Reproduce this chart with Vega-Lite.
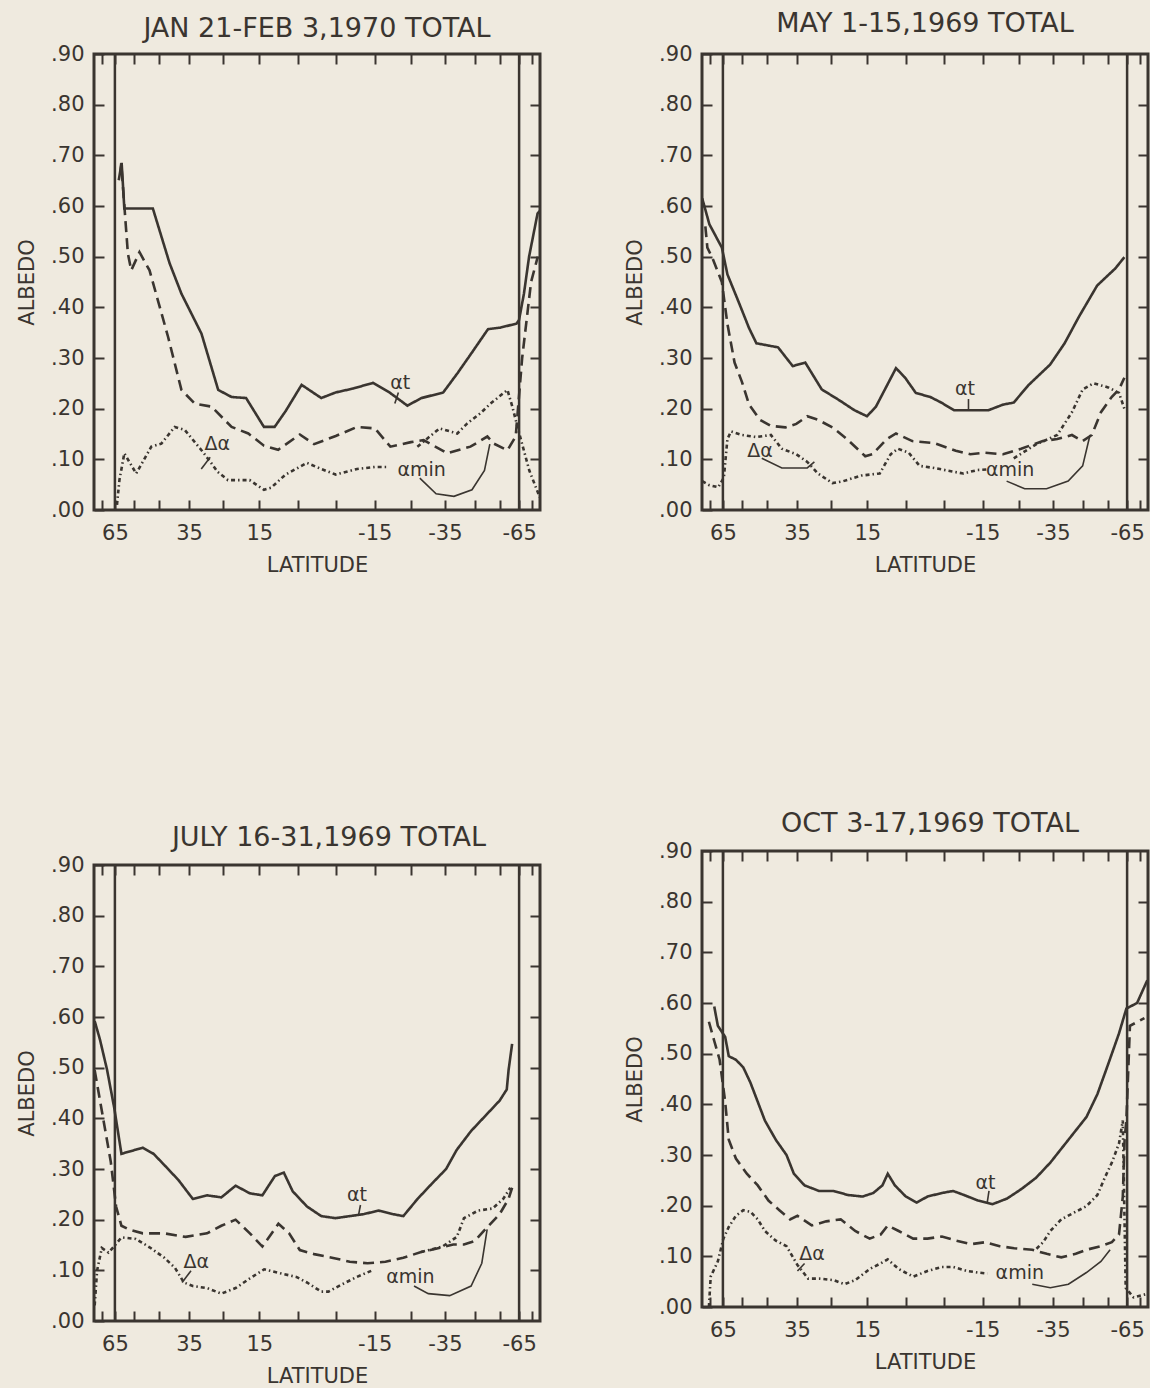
{
"$schema": "https://vega.github.io/schema/vega-lite/v6.json",
"background": "#efeadf",
"padding": {"left": 15, "top": 8, "right": 0, "bottom": 0},
"datasets": {
"limits": [{"sinlat": 0.9063}, {"sinlat": -0.9063}],
"curves": [
{"panel":"p1","series":"at","g":1,"sinlat":0.889,"albedo":0.651},{"panel":"p1","series":"at","g":1,"sinlat":0.876,"albedo":0.685},{"panel":"p1","series":"at","g":1,"sinlat":0.864,"albedo":0.595},{"panel":"p1","series":"at","g":1,"sinlat":0.736,"albedo":0.595},{"panel":"p1","series":"at","g":1,"sinlat":0.661,"albedo":0.487},{"panel":"p1","series":"at","g":1,"sinlat":0.608,"albedo":0.427},{"panel":"p1","series":"at","g":1,"sinlat":0.518,"albedo":0.348},{"panel":"p1","series":"at","g":1,"sinlat":0.443,"albedo":0.237},{"panel":"p1","series":"at","g":1,"sinlat":0.383,"albedo":0.223},{"panel":"p1","series":"at","g":1,"sinlat":0.318,"albedo":0.221},{"panel":"p1","series":"at","g":1,"sinlat":0.238,"albedo":0.164},{"panel":"p1","series":"at","g":1,"sinlat":0.19,"albedo":0.164},{"panel":"p1","series":"at","g":1,"sinlat":0.141,"albedo":0.195},{"panel":"p1","series":"at","g":1,"sinlat":0.069,"albedo":0.247},{"panel":"p1","series":"at","g":1,"sinlat":-0.019,"albedo":0.221},{"panel":"p1","series":"at","g":1,"sinlat":-0.084,"albedo":0.232},{"panel":"p1","series":"at","g":1,"sinlat":-0.164,"albedo":0.24},{"panel":"p1","series":"at","g":1,"sinlat":-0.252,"albedo":0.251},{"panel":"p1","series":"at","g":1,"sinlat":-0.325,"albedo":0.232},{"panel":"p1","series":"at","g":1,"sinlat":-0.405,"albedo":0.206},{"panel":"p1","series":"at","g":1,"sinlat":-0.469,"albedo":0.221},{"panel":"p1","series":"at","g":1,"sinlat":-0.566,"albedo":0.232},{"panel":"p1","series":"at","g":1,"sinlat":-0.63,"albedo":0.27},{"panel":"p1","series":"at","g":1,"sinlat":-0.695,"albedo":0.311},{"panel":"p1","series":"at","g":1,"sinlat":-0.767,"albedo":0.357},{"panel":"p1","series":"at","g":1,"sinlat":-0.823,"albedo":0.36},{"panel":"p1","series":"at","g":1,"sinlat":-0.895,"albedo":0.368},{"panel":"p1","series":"at","g":1,"sinlat":-0.906,"albedo":0.375},{"panel":"p1","series":"at","g":1,"sinlat":-0.928,"albedo":0.427},{"panel":"p1","series":"at","g":1,"sinlat":-0.951,"albedo":0.5},{"panel":"p1","series":"at","g":1,"sinlat":-0.989,"albedo":0.585},{"panel":"p1","series":"at","g":1,"sinlat":-0.999,"albedo":0.59},
{"panel":"p1","series":"da","g":1,"sinlat":0.882,"albedo":0.664},{"panel":"p1","series":"da","g":1,"sinlat":0.878,"albedo":0.684},{"panel":"p1","series":"da","g":1,"sinlat":0.848,"albedo":0.506},{"panel":"p1","series":"da","g":1,"sinlat":0.833,"albedo":0.473},{"panel":"p1","series":"da","g":1,"sinlat":0.796,"albedo":0.509},{"panel":"p1","series":"da","g":1,"sinlat":0.751,"albedo":0.473},{"panel":"p1","series":"da","g":1,"sinlat":0.668,"albedo":0.342},{"panel":"p1","series":"da","g":1,"sinlat":0.608,"albedo":0.237},{"panel":"p1","series":"da","g":1,"sinlat":0.548,"albedo":0.21},{"panel":"p1","series":"da","g":1,"sinlat":0.473,"albedo":0.204},{"panel":"p1","series":"da","g":1,"sinlat":0.383,"albedo":0.164},{"panel":"p1","series":"da","g":1,"sinlat":0.308,"albedo":0.151},{"panel":"p1","series":"da","g":1,"sinlat":0.238,"albedo":0.127},{"panel":"p1","series":"da","g":1,"sinlat":0.174,"albedo":0.119},{"panel":"p1","series":"da","g":1,"sinlat":0.077,"albedo":0.149},{"panel":"p1","series":"da","g":1,"sinlat":0.013,"albedo":0.13},{"panel":"p1","series":"da","g":1,"sinlat":-0.084,"albedo":0.146},{"panel":"p1","series":"da","g":1,"sinlat":-0.18,"albedo":0.164},{"panel":"p1","series":"da","g":1,"sinlat":-0.26,"albedo":0.161},{"panel":"p1","series":"da","g":1,"sinlat":-0.329,"albedo":0.125},{"panel":"p1","series":"da","g":1,"sinlat":-0.421,"albedo":0.134},{"panel":"p1","series":"da","g":1,"sinlat":-0.478,"albedo":0.138},{"panel":"p1","series":"da","g":1,"sinlat":-0.584,"albedo":0.112},{"panel":"p1","series":"da","g":1,"sinlat":-0.688,"albedo":0.125},{"panel":"p1","series":"da","g":1,"sinlat":-0.764,"albedo":0.145},{"panel":"p1","series":"da","g":1,"sinlat":-0.793,"albedo":0.131},{"panel":"p1","series":"da","g":1,"sinlat":-0.854,"albedo":0.118},{"panel":"p1","series":"da","g":1,"sinlat":-0.891,"albedo":0.145},{"panel":"p1","series":"da","g":1,"sinlat":-0.92,"albedo":0.3},{"panel":"p1","series":"da","g":1,"sinlat":-0.96,"albedo":0.45},{"panel":"p1","series":"da","g":1,"sinlat":-0.99,"albedo":0.5},
{"panel":"p1","series":"am","g":1,"sinlat":0.897,"albedo":0.01},{"panel":"p1","series":"am","g":1,"sinlat":0.886,"albedo":0.059},{"panel":"p1","series":"am","g":1,"sinlat":0.864,"albedo":0.112},{"panel":"p1","series":"am","g":1,"sinlat":0.811,"albedo":0.072},{"panel":"p1","series":"am","g":1,"sinlat":0.743,"albedo":0.125},{"panel":"p1","series":"am","g":1,"sinlat":0.698,"albedo":0.131},{"panel":"p1","series":"am","g":1,"sinlat":0.638,"albedo":0.164},{"panel":"p1","series":"am","g":1,"sinlat":0.593,"albedo":0.158},{"panel":"p1","series":"am","g":1,"sinlat":0.518,"albedo":0.118},{"panel":"p1","series":"am","g":1,"sinlat":0.473,"albedo":0.092},{"panel":"p1","series":"am","g":1,"sinlat":0.445,"albedo":0.075},{"panel":"p1","series":"am","g":1,"sinlat":0.399,"albedo":0.059},{"panel":"p1","series":"am","g":1,"sinlat":0.302,"albedo":0.059},{"panel":"p1","series":"am","g":1,"sinlat":0.238,"albedo":0.04},{"panel":"p1","series":"am","g":1,"sinlat":0.206,"albedo":0.044},{"panel":"p1","series":"am","g":1,"sinlat":0.141,"albedo":0.07},{"panel":"p1","series":"am","g":1,"sinlat":0.045,"albedo":0.093},{"panel":"p1","series":"am","g":1,"sinlat":-0.019,"albedo":0.081},{"panel":"p1","series":"am","g":1,"sinlat":-0.084,"albedo":0.07},{"panel":"p1","series":"am","g":1,"sinlat":-0.18,"albedo":0.081},{"panel":"p1","series":"am","g":1,"sinlat":-0.26,"albedo":0.085},{"panel":"p1","series":"am","g":1,"sinlat":-0.32,"albedo":0.085},
{"panel":"p1","series":"am","g":2,"sinlat":-0.45,"albedo":0.125},{"panel":"p1","series":"am","g":2,"sinlat":-0.55,"albedo":0.161},{"panel":"p1","series":"am","g":2,"sinlat":-0.629,"albedo":0.151},{"panel":"p1","series":"am","g":2,"sinlat":-0.674,"albedo":0.171},{"panel":"p1","series":"am","g":2,"sinlat":-0.733,"albedo":0.191},{"panel":"p1","series":"am","g":2,"sinlat":-0.778,"albedo":0.21},{"panel":"p1","series":"am","g":2,"sinlat":-0.854,"albedo":0.237},{"panel":"p1","series":"am","g":2,"sinlat":-0.876,"albedo":0.204},{"panel":"p1","series":"am","g":2,"sinlat":-0.899,"albedo":0.164},{"panel":"p1","series":"am","g":2,"sinlat":-0.952,"albedo":0.078},{"panel":"p1","series":"am","g":2,"sinlat":-0.999,"albedo":0.025},

{"panel":"p2","series":"at","g":1,"sinlat":0.999,"albedo":0.615},{"panel":"p2","series":"at","g":1,"sinlat":0.967,"albedo":0.564},{"panel":"p2","series":"at","g":1,"sinlat":0.911,"albedo":0.518},{"panel":"p2","series":"at","g":1,"sinlat":0.886,"albedo":0.465},{"panel":"p2","series":"at","g":1,"sinlat":0.837,"albedo":0.412},{"panel":"p2","series":"at","g":1,"sinlat":0.789,"albedo":0.359},{"panel":"p2","series":"at","g":1,"sinlat":0.756,"albedo":0.329},{"panel":"p2","series":"at","g":1,"sinlat":0.707,"albedo":0.325},{"panel":"p2","series":"at","g":1,"sinlat":0.659,"albedo":0.321},{"panel":"p2","series":"at","g":1,"sinlat":0.593,"albedo":0.284},{"panel":"p2","series":"at","g":1,"sinlat":0.537,"albedo":0.291},{"panel":"p2","series":"at","g":1,"sinlat":0.463,"albedo":0.238},{"panel":"p2","series":"at","g":1,"sinlat":0.382,"albedo":0.216},{"panel":"p2","series":"at","g":1,"sinlat":0.317,"albedo":0.197},{"panel":"p2","series":"at","g":1,"sinlat":0.26,"albedo":0.185},{"panel":"p2","series":"at","g":1,"sinlat":0.22,"albedo":0.204},{"panel":"p2","series":"at","g":1,"sinlat":0.13,"albedo":0.28},{"panel":"p2","series":"at","g":1,"sinlat":0.089,"albedo":0.261},{"panel":"p2","series":"at","g":1,"sinlat":0.041,"albedo":0.231},{"panel":"p2","series":"at","g":1,"sinlat":-0.024,"albedo":0.223},{"panel":"p2","series":"at","g":1,"sinlat":-0.073,"albedo":0.212},{"panel":"p2","series":"at","g":1,"sinlat":-0.13,"albedo":0.197},{"panel":"p2","series":"at","g":1,"sinlat":-0.203,"albedo":0.197},{"panel":"p2","series":"at","g":1,"sinlat":-0.285,"albedo":0.197},{"panel":"p2","series":"at","g":1,"sinlat":-0.35,"albedo":0.208},{"panel":"p2","series":"at","g":1,"sinlat":-0.398,"albedo":0.212},{"panel":"p2","series":"at","g":1,"sinlat":-0.463,"albedo":0.246},{"panel":"p2","series":"at","g":1,"sinlat":-0.561,"albedo":0.287},{"panel":"p2","series":"at","g":1,"sinlat":-0.626,"albedo":0.329},{"panel":"p2","series":"at","g":1,"sinlat":-0.691,"albedo":0.382},{"panel":"p2","series":"at","g":1,"sinlat":-0.772,"albedo":0.443},{"panel":"p2","series":"at","g":1,"sinlat":-0.854,"albedo":0.477},{"panel":"p2","series":"at","g":1,"sinlat":-0.894,"albedo":0.499},
{"panel":"p2","series":"da","g":1,"sinlat":0.985,"albedo":0.56},{"panel":"p2","series":"da","g":1,"sinlat":0.976,"albedo":0.518},{"panel":"p2","series":"da","g":1,"sinlat":0.951,"albedo":0.495},{"panel":"p2","series":"da","g":1,"sinlat":0.911,"albedo":0.45},{"panel":"p2","series":"da","g":1,"sinlat":0.886,"albedo":0.367},{"panel":"p2","series":"da","g":1,"sinlat":0.854,"albedo":0.291},{"panel":"p2","series":"da","g":1,"sinlat":0.821,"albedo":0.253},{"panel":"p2","series":"da","g":1,"sinlat":0.789,"albedo":0.208},{"panel":"p2","series":"da","g":1,"sinlat":0.74,"albedo":0.178},{"panel":"p2","series":"da","g":1,"sinlat":0.691,"albedo":0.166},{"panel":"p2","series":"da","g":1,"sinlat":0.626,"albedo":0.163},{"panel":"p2","series":"da","g":1,"sinlat":0.577,"albedo":0.17},{"panel":"p2","series":"da","g":1,"sinlat":0.528,"albedo":0.185},{"panel":"p2","series":"da","g":1,"sinlat":0.48,"albedo":0.178},{"panel":"p2","series":"da","g":1,"sinlat":0.415,"albedo":0.163},{"panel":"p2","series":"da","g":1,"sinlat":0.35,"albedo":0.14},{"panel":"p2","series":"da","g":1,"sinlat":0.268,"albedo":0.106},{"panel":"p2","series":"da","g":1,"sinlat":0.236,"albedo":0.11},{"panel":"p2","series":"da","g":1,"sinlat":0.171,"albedo":0.14},{"panel":"p2","series":"da","g":1,"sinlat":0.13,"albedo":0.151},{"panel":"p2","series":"da","g":1,"sinlat":0.057,"albedo":0.136},{"panel":"p2","series":"da","g":1,"sinlat":-0.041,"albedo":0.132},{"panel":"p2","series":"da","g":1,"sinlat":-0.138,"albedo":0.117},{"panel":"p2","series":"da","g":1,"sinlat":-0.203,"albedo":0.11},{"panel":"p2","series":"da","g":1,"sinlat":-0.268,"albedo":0.113},{"panel":"p2","series":"da","g":1,"sinlat":-0.35,"albedo":0.11},{"panel":"p2","series":"da","g":1,"sinlat":-0.431,"albedo":0.121},{"panel":"p2","series":"da","g":1,"sinlat":-0.528,"albedo":0.136},{"panel":"p2","series":"da","g":1,"sinlat":-0.593,"albedo":0.14},{"panel":"p2","series":"da","g":1,"sinlat":-0.659,"albedo":0.148},{"panel":"p2","series":"da","g":1,"sinlat":-0.707,"albedo":0.136},{"panel":"p2","series":"da","g":1,"sinlat":-0.748,"albedo":0.148},{"panel":"p2","series":"da","g":1,"sinlat":-0.789,"albedo":0.193},{"panel":"p2","series":"da","g":1,"sinlat":-0.837,"albedo":0.223},{"panel":"p2","series":"da","g":1,"sinlat":-0.87,"albedo":0.238},{"panel":"p2","series":"da","g":1,"sinlat":-0.894,"albedo":0.261},
{"panel":"p2","series":"am","g":1,"sinlat":0.999,"albedo":0.057},{"panel":"p2","series":"am","g":1,"sinlat":0.967,"albedo":0.049},{"panel":"p2","series":"am","g":1,"sinlat":0.927,"albedo":0.045},{"panel":"p2","series":"am","g":1,"sinlat":0.902,"albedo":0.064},{"panel":"p2","series":"am","g":1,"sinlat":0.886,"albedo":0.14},{"panel":"p2","series":"am","g":1,"sinlat":0.87,"albedo":0.155},{"panel":"p2","series":"am","g":1,"sinlat":0.821,"albedo":0.148},{"panel":"p2","series":"am","g":1,"sinlat":0.756,"albedo":0.144},{"panel":"p2","series":"am","g":1,"sinlat":0.691,"albedo":0.148},{"panel":"p2","series":"am","g":1,"sinlat":0.642,"albedo":0.121},{"panel":"p2","series":"am","g":1,"sinlat":0.577,"albedo":0.11},{"panel":"p2","series":"am","g":1,"sinlat":0.528,"albedo":0.095},{"panel":"p2","series":"am","g":1,"sinlat":0.48,"albedo":0.072},{"panel":"p2","series":"am","g":1,"sinlat":0.415,"albedo":0.053},{"panel":"p2","series":"am","g":1,"sinlat":0.366,"albedo":0.057},{"panel":"p2","series":"am","g":1,"sinlat":0.285,"albedo":0.068},{"panel":"p2","series":"am","g":1,"sinlat":0.203,"albedo":0.072},{"panel":"p2","series":"am","g":1,"sinlat":0.154,"albedo":0.11},{"panel":"p2","series":"am","g":1,"sinlat":0.122,"albedo":0.121},{"panel":"p2","series":"am","g":1,"sinlat":0.073,"albedo":0.113},{"panel":"p2","series":"am","g":1,"sinlat":0.024,"albedo":0.087},{"panel":"p2","series":"am","g":1,"sinlat":-0.041,"albedo":0.083},{"panel":"p2","series":"am","g":1,"sinlat":-0.122,"albedo":0.076},{"panel":"p2","series":"am","g":1,"sinlat":-0.171,"albedo":0.072},{"panel":"p2","series":"am","g":1,"sinlat":-0.236,"albedo":0.079},{"panel":"p2","series":"am","g":1,"sinlat":-0.28,"albedo":0.08},
{"panel":"p2","series":"am","g":2,"sinlat":-0.398,"albedo":0.102},{"panel":"p2","series":"am","g":2,"sinlat":-0.496,"albedo":0.129},{"panel":"p2","series":"am","g":2,"sinlat":-0.593,"albedo":0.148},{"panel":"p2","series":"am","g":2,"sinlat":-0.659,"albedo":0.193},{"panel":"p2","series":"am","g":2,"sinlat":-0.707,"albedo":0.238},{"panel":"p2","series":"am","g":2,"sinlat":-0.756,"albedo":0.25},{"panel":"p2","series":"am","g":2,"sinlat":-0.821,"albedo":0.242},{"panel":"p2","series":"am","g":2,"sinlat":-0.87,"albedo":0.231},{"panel":"p2","series":"am","g":2,"sinlat":-0.894,"albedo":0.2},

{"panel":"p3","series":"at","g":1,"sinlat":0.997,"albedo":0.592},{"panel":"p3","series":"at","g":1,"sinlat":0.973,"albedo":0.555},{"panel":"p3","series":"at","g":1,"sinlat":0.941,"albedo":0.495},{"panel":"p3","series":"at","g":1,"sinlat":0.909,"albedo":0.42},{"panel":"p3","series":"at","g":1,"sinlat":0.893,"albedo":0.375},{"panel":"p3","series":"at","g":1,"sinlat":0.877,"albedo":0.33},{"panel":"p3","series":"at","g":1,"sinlat":0.813,"albedo":0.338},{"panel":"p3","series":"at","g":1,"sinlat":0.781,"albedo":0.342},{"panel":"p3","series":"at","g":1,"sinlat":0.733,"albedo":0.33},{"panel":"p3","series":"at","g":1,"sinlat":0.685,"albedo":0.308},{"panel":"p3","series":"at","g":1,"sinlat":0.621,"albedo":0.278},{"panel":"p3","series":"at","g":1,"sinlat":0.557,"albedo":0.241},{"panel":"p3","series":"at","g":1,"sinlat":0.493,"albedo":0.248},{"panel":"p3","series":"at","g":1,"sinlat":0.429,"albedo":0.244},{"panel":"p3","series":"at","g":1,"sinlat":0.365,"albedo":0.267},{"panel":"p3","series":"at","g":1,"sinlat":0.301,"albedo":0.252},{"panel":"p3","series":"at","g":1,"sinlat":0.245,"albedo":0.248},{"panel":"p3","series":"at","g":1,"sinlat":0.189,"albedo":0.286},{"panel":"p3","series":"at","g":1,"sinlat":0.149,"albedo":0.293},{"panel":"p3","series":"at","g":1,"sinlat":0.109,"albedo":0.256},{"panel":"p3","series":"at","g":1,"sinlat":0.045,"albedo":0.226},{"panel":"p3","series":"at","g":1,"sinlat":-0.019,"albedo":0.207},{"panel":"p3","series":"at","g":1,"sinlat":-0.083,"albedo":0.203},{"panel":"p3","series":"at","g":1,"sinlat":-0.147,"albedo":0.207},{"panel":"p3","series":"at","g":1,"sinlat":-0.211,"albedo":0.211},{"panel":"p3","series":"at","g":1,"sinlat":-0.275,"albedo":0.218},{"panel":"p3","series":"at","g":1,"sinlat":-0.339,"albedo":0.211},{"panel":"p3","series":"at","g":1,"sinlat":-0.387,"albedo":0.207},{"panel":"p3","series":"at","g":1,"sinlat":-0.451,"albedo":0.241},{"panel":"p3","series":"at","g":1,"sinlat":-0.515,"albedo":0.271},{"panel":"p3","series":"at","g":1,"sinlat":-0.579,"albedo":0.3},{"panel":"p3","series":"at","g":1,"sinlat":-0.627,"albedo":0.338},{"panel":"p3","series":"at","g":1,"sinlat":-0.691,"albedo":0.375},{"panel":"p3","series":"at","g":1,"sinlat":-0.755,"albedo":0.405},{"panel":"p3","series":"at","g":1,"sinlat":-0.819,"albedo":0.435},{"panel":"p3","series":"at","g":1,"sinlat":-0.851,"albedo":0.457},{"panel":"p3","series":"at","g":1,"sinlat":-0.859,"albedo":0.495},{"panel":"p3","series":"at","g":1,"sinlat":-0.875,"albedo":0.547},
{"panel":"p3","series":"da","g":1,"sinlat":0.997,"albedo":0.495},{"panel":"p3","series":"da","g":1,"sinlat":0.973,"albedo":0.435},{"panel":"p3","series":"da","g":1,"sinlat":0.949,"albedo":0.375},{"panel":"p3","series":"da","g":1,"sinlat":0.925,"albedo":0.315},{"panel":"p3","series":"da","g":1,"sinlat":0.901,"albedo":0.226},{"panel":"p3","series":"da","g":1,"sinlat":0.877,"albedo":0.188},{"panel":"p3","series":"da","g":1,"sinlat":0.845,"albedo":0.181},{"panel":"p3","series":"da","g":1,"sinlat":0.781,"albedo":0.173},{"panel":"p3","series":"da","g":1,"sinlat":0.685,"albedo":0.173},{"panel":"p3","series":"da","g":1,"sinlat":0.589,"albedo":0.166},{"panel":"p3","series":"da","g":1,"sinlat":0.493,"albedo":0.173},{"panel":"p3","series":"da","g":1,"sinlat":0.429,"albedo":0.188},{"panel":"p3","series":"da","g":1,"sinlat":0.365,"albedo":0.2},{"panel":"p3","series":"da","g":1,"sinlat":0.301,"albedo":0.173},{"panel":"p3","series":"da","g":1,"sinlat":0.245,"albedo":0.147},{"panel":"p3","series":"da","g":1,"sinlat":0.173,"albedo":0.192},{"panel":"p3","series":"da","g":1,"sinlat":0.125,"albedo":0.173},{"panel":"p3","series":"da","g":1,"sinlat":0.077,"albedo":0.14},{"panel":"p3","series":"da","g":1,"sinlat":0.013,"albedo":0.132},{"panel":"p3","series":"da","g":1,"sinlat":-0.067,"albedo":0.125},{"panel":"p3","series":"da","g":1,"sinlat":-0.147,"albedo":0.117},{"panel":"p3","series":"da","g":1,"sinlat":-0.227,"albedo":0.114},{"panel":"p3","series":"da","g":1,"sinlat":-0.307,"albedo":0.117},{"panel":"p3","series":"da","g":1,"sinlat":-0.387,"albedo":0.125},{"panel":"p3","series":"da","g":1,"sinlat":-0.467,"albedo":0.136},{"panel":"p3","series":"da","g":1,"sinlat":-0.547,"albedo":0.144},{"panel":"p3","series":"da","g":1,"sinlat":-0.611,"albedo":0.151},{"panel":"p3","series":"da","g":1,"sinlat":-0.659,"albedo":0.151},{"panel":"p3","series":"da","g":1,"sinlat":-0.707,"albedo":0.158},{"panel":"p3","series":"da","g":1,"sinlat":-0.755,"albedo":0.181},{"panel":"p3","series":"da","g":1,"sinlat":-0.819,"albedo":0.211},{"panel":"p3","series":"da","g":1,"sinlat":-0.859,"albedo":0.241},{"panel":"p3","series":"da","g":1,"sinlat":-0.875,"albedo":0.263},
{"panel":"p3","series":"am","g":1,"sinlat":0.997,"albedo":0.031},{"panel":"p3","series":"am","g":1,"sinlat":0.986,"albedo":0.1},{"panel":"p3","series":"am","g":1,"sinlat":0.965,"albedo":0.144},{"panel":"p3","series":"am","g":1,"sinlat":0.935,"albedo":0.135},{"panel":"p3","series":"am","g":1,"sinlat":0.905,"albedo":0.15},{"panel":"p3","series":"am","g":1,"sinlat":0.877,"albedo":0.165},{"panel":"p3","series":"am","g":1,"sinlat":0.813,"albedo":0.162},{"panel":"p3","series":"am","g":1,"sinlat":0.749,"albedo":0.145},{"panel":"p3","series":"am","g":1,"sinlat":0.685,"albedo":0.125},{"panel":"p3","series":"am","g":1,"sinlat":0.637,"albedo":0.105},{"panel":"p3","series":"am","g":1,"sinlat":0.597,"albedo":0.076},{"panel":"p3","series":"am","g":1,"sinlat":0.557,"albedo":0.069},{"panel":"p3","series":"am","g":1,"sinlat":0.493,"albedo":0.065},{"panel":"p3","series":"am","g":1,"sinlat":0.429,"albedo":0.054},{"panel":"p3","series":"am","g":1,"sinlat":0.365,"albedo":0.065},{"panel":"p3","series":"am","g":1,"sinlat":0.301,"albedo":0.084},{"panel":"p3","series":"am","g":1,"sinlat":0.237,"albedo":0.102},{"panel":"p3","series":"am","g":1,"sinlat":0.173,"albedo":0.095},{"panel":"p3","series":"am","g":1,"sinlat":0.093,"albedo":0.087},{"panel":"p3","series":"am","g":1,"sinlat":0.045,"albedo":0.076},{"panel":"p3","series":"am","g":1,"sinlat":-0.019,"albedo":0.058},{"panel":"p3","series":"am","g":1,"sinlat":-0.051,"albedo":0.058},{"panel":"p3","series":"am","g":1,"sinlat":-0.115,"albedo":0.073},{"panel":"p3","series":"am","g":1,"sinlat":-0.179,"albedo":0.087},{"panel":"p3","series":"am","g":1,"sinlat":-0.243,"albedo":0.099},
{"panel":"p3","series":"am","g":2,"sinlat":-0.467,"albedo":0.136},{"panel":"p3","series":"am","g":2,"sinlat":-0.563,"albedo":0.147},{"panel":"p3","series":"am","g":2,"sinlat":-0.627,"albedo":0.166},{"panel":"p3","series":"am","g":2,"sinlat":-0.659,"albedo":0.203},{"panel":"p3","series":"am","g":2,"sinlat":-0.723,"albedo":0.218},{"panel":"p3","series":"am","g":2,"sinlat":-0.787,"albedo":0.222},{"panel":"p3","series":"am","g":2,"sinlat":-0.835,"albedo":0.241},{"panel":"p3","series":"am","g":2,"sinlat":-0.867,"albedo":0.263},

{"panel":"p4","series":"at","g":1,"sinlat":0.945,"albedo":0.593},{"panel":"p4","series":"at","g":1,"sinlat":0.929,"albedo":0.555},{"panel":"p4","series":"at","g":1,"sinlat":0.896,"albedo":0.533},{"panel":"p4","series":"at","g":1,"sinlat":0.88,"albedo":0.495},{"panel":"p4","series":"at","g":1,"sinlat":0.848,"albedo":0.488},{"panel":"p4","series":"at","g":1,"sinlat":0.815,"albedo":0.473},{"panel":"p4","series":"at","g":1,"sinlat":0.783,"albedo":0.443},{"panel":"p4","series":"at","g":1,"sinlat":0.75,"albedo":0.405},{"panel":"p4","series":"at","g":1,"sinlat":0.718,"albedo":0.368},{"panel":"p4","series":"at","g":1,"sinlat":0.669,"albedo":0.33},{"panel":"p4","series":"at","g":1,"sinlat":0.621,"albedo":0.3},{"panel":"p4","series":"at","g":1,"sinlat":0.588,"albedo":0.263},{"panel":"p4","series":"at","g":1,"sinlat":0.54,"albedo":0.24},{"panel":"p4","series":"at","g":1,"sinlat":0.475,"albedo":0.229},{"panel":"p4","series":"at","g":1,"sinlat":0.41,"albedo":0.229},{"panel":"p4","series":"at","g":1,"sinlat":0.345,"albedo":0.221},{"panel":"p4","series":"at","g":1,"sinlat":0.28,"albedo":0.218},{"panel":"p4","series":"at","g":1,"sinlat":0.232,"albedo":0.225},{"panel":"p4","series":"at","g":1,"sinlat":0.191,"albedo":0.24},{"panel":"p4","series":"at","g":1,"sinlat":0.167,"albedo":0.263},{"panel":"p4","series":"at","g":1,"sinlat":0.135,"albedo":0.24},{"panel":"p4","series":"at","g":1,"sinlat":0.086,"albedo":0.218},{"panel":"p4","series":"at","g":1,"sinlat":0.037,"albedo":0.206},{"panel":"p4","series":"at","g":1,"sinlat":-0.011,"albedo":0.218},{"panel":"p4","series":"at","g":1,"sinlat":-0.076,"albedo":0.225},{"panel":"p4","series":"at","g":1,"sinlat":-0.126,"albedo":0.229},{"panel":"p4","series":"at","g":1,"sinlat":-0.175,"albedo":0.221},{"panel":"p4","series":"at","g":1,"sinlat":-0.238,"albedo":0.21},{"panel":"p4","series":"at","g":1,"sinlat":-0.303,"albedo":0.203},{"panel":"p4","series":"at","g":1,"sinlat":-0.368,"albedo":0.214},{"panel":"p4","series":"at","g":1,"sinlat":-0.433,"albedo":0.233},{"panel":"p4","series":"at","g":1,"sinlat":-0.498,"albedo":0.255},{"panel":"p4","series":"at","g":1,"sinlat":-0.562,"albedo":0.285},{"panel":"p4","series":"at","g":1,"sinlat":-0.643,"albedo":0.33},{"panel":"p4","series":"at","g":1,"sinlat":-0.724,"albedo":0.375},{"panel":"p4","series":"at","g":1,"sinlat":-0.773,"albedo":0.42},{"panel":"p4","series":"at","g":1,"sinlat":-0.822,"albedo":0.48},{"panel":"p4","series":"at","g":1,"sinlat":-0.87,"albedo":0.54},{"panel":"p4","series":"at","g":1,"sinlat":-0.903,"albedo":0.589},{"panel":"p4","series":"at","g":1,"sinlat":-0.951,"albedo":0.6},{"panel":"p4","series":"at","g":1,"sinlat":-0.997,"albedo":0.645},
{"panel":"p4","series":"da","g":1,"sinlat":0.969,"albedo":0.563},{"panel":"p4","series":"da","g":1,"sinlat":0.945,"albedo":0.525},{"panel":"p4","series":"da","g":1,"sinlat":0.921,"albedo":0.488},{"panel":"p4","series":"da","g":1,"sinlat":0.896,"albedo":0.405},{"panel":"p4","series":"da","g":1,"sinlat":0.88,"albedo":0.33},{"panel":"p4","series":"da","g":1,"sinlat":0.848,"albedo":0.293},{"panel":"p4","series":"da","g":1,"sinlat":0.799,"albedo":0.263},{"panel":"p4","series":"da","g":1,"sinlat":0.75,"albedo":0.24},{"panel":"p4","series":"da","g":1,"sinlat":0.702,"albedo":0.21},{"panel":"p4","series":"da","g":1,"sinlat":0.653,"albedo":0.191},{"panel":"p4","series":"da","g":1,"sinlat":0.605,"albedo":0.173},{"panel":"p4","series":"da","g":1,"sinlat":0.572,"albedo":0.18},{"panel":"p4","series":"da","g":1,"sinlat":0.508,"albedo":0.161},{"panel":"p4","series":"da","g":1,"sinlat":0.443,"albedo":0.169},{"panel":"p4","series":"da","g":1,"sinlat":0.378,"albedo":0.173},{"panel":"p4","series":"da","g":1,"sinlat":0.313,"albedo":0.15},{"panel":"p4","series":"da","g":1,"sinlat":0.248,"albedo":0.135},{"panel":"p4","series":"da","g":1,"sinlat":0.199,"albedo":0.143},{"panel":"p4","series":"da","g":1,"sinlat":0.167,"albedo":0.161},{"panel":"p4","series":"da","g":1,"sinlat":0.118,"albedo":0.15},{"panel":"p4","series":"da","g":1,"sinlat":0.053,"albedo":0.135},{"panel":"p4","series":"da","g":1,"sinlat":-0.011,"albedo":0.135},{"panel":"p4","series":"da","g":1,"sinlat":-0.076,"albedo":0.139},{"panel":"p4","series":"da","g":1,"sinlat":-0.141,"albedo":0.131},{"panel":"p4","series":"da","g":1,"sinlat":-0.206,"albedo":0.124},{"panel":"p4","series":"da","g":1,"sinlat":-0.271,"albedo":0.128},{"panel":"p4","series":"da","g":1,"sinlat":-0.335,"albedo":0.12},{"panel":"p4","series":"da","g":1,"sinlat":-0.4,"albedo":0.116},{"panel":"p4","series":"da","g":1,"sinlat":-0.481,"albedo":0.113},{"panel":"p4","series":"da","g":1,"sinlat":-0.546,"albedo":0.105},{"panel":"p4","series":"da","g":1,"sinlat":-0.611,"albedo":0.098},{"panel":"p4","series":"da","g":1,"sinlat":-0.676,"albedo":0.105},{"panel":"p4","series":"da","g":1,"sinlat":-0.724,"albedo":0.113},{"panel":"p4","series":"da","g":1,"sinlat":-0.789,"albedo":0.12},{"panel":"p4","series":"da","g":1,"sinlat":-0.838,"albedo":0.128},{"panel":"p4","series":"da","g":1,"sinlat":-0.87,"albedo":0.143},{"panel":"p4","series":"da","g":1,"sinlat":-0.887,"albedo":0.218},{"panel":"p4","series":"da","g":1,"sinlat":-0.895,"albedo":0.33},{"panel":"p4","series":"da","g":1,"sinlat":-0.903,"albedo":0.368},{"panel":"p4","series":"da","g":1,"sinlat":-0.919,"albedo":0.555},{"panel":"p4","series":"da","g":1,"sinlat":-0.984,"albedo":0.57},
{"panel":"p4","series":"am","g":1,"sinlat":0.969,"albedo":0.0},{"panel":"p4","series":"am","g":1,"sinlat":0.961,"albedo":0.06},{"panel":"p4","series":"am","g":1,"sinlat":0.929,"albedo":0.09},{"panel":"p4","series":"am","g":1,"sinlat":0.904,"albedo":0.135},{"panel":"p4","series":"am","g":1,"sinlat":0.88,"albedo":0.158},{"panel":"p4","series":"am","g":1,"sinlat":0.848,"albedo":0.18},{"panel":"p4","series":"am","g":1,"sinlat":0.815,"albedo":0.191},{"panel":"p4","series":"am","g":1,"sinlat":0.783,"albedo":0.188},{"panel":"p4","series":"am","g":1,"sinlat":0.75,"albedo":0.173},{"panel":"p4","series":"am","g":1,"sinlat":0.718,"albedo":0.15},{"panel":"p4","series":"am","g":1,"sinlat":0.669,"albedo":0.131},{"panel":"p4","series":"am","g":1,"sinlat":0.621,"albedo":0.12},{"panel":"p4","series":"am","g":1,"sinlat":0.572,"albedo":0.083},{"panel":"p4","series":"am","g":1,"sinlat":0.524,"albedo":0.056},{"panel":"p4","series":"am","g":1,"sinlat":0.475,"albedo":0.056},{"panel":"p4","series":"am","g":1,"sinlat":0.41,"albedo":0.053},{"panel":"p4","series":"am","g":1,"sinlat":0.361,"albedo":0.045},{"panel":"p4","series":"am","g":1,"sinlat":0.313,"albedo":0.053},{"panel":"p4","series":"am","g":1,"sinlat":0.248,"albedo":0.075},{"panel":"p4","series":"am","g":1,"sinlat":0.199,"albedo":0.086},{"panel":"p4","series":"am","g":1,"sinlat":0.167,"albedo":0.094},{"panel":"p4","series":"am","g":1,"sinlat":0.118,"albedo":0.075},{"panel":"p4","series":"am","g":1,"sinlat":0.053,"albedo":0.06},{"panel":"p4","series":"am","g":1,"sinlat":-0.011,"albedo":0.071},{"panel":"p4","series":"am","g":1,"sinlat":-0.076,"albedo":0.079},{"panel":"p4","series":"am","g":1,"sinlat":-0.126,"albedo":0.079},{"panel":"p4","series":"am","g":1,"sinlat":-0.19,"albedo":0.071},{"panel":"p4","series":"am","g":1,"sinlat":-0.238,"albedo":0.068},{"panel":"p4","series":"am","g":1,"sinlat":-0.28,"albedo":0.066},
{"panel":"p4","series":"am","g":2,"sinlat":-0.5,"albedo":0.115},{"panel":"p4","series":"am","g":2,"sinlat":-0.53,"albedo":0.128},{"panel":"p4","series":"am","g":2,"sinlat":-0.562,"albedo":0.15},{"panel":"p4","series":"am","g":2,"sinlat":-0.611,"albedo":0.173},{"panel":"p4","series":"am","g":2,"sinlat":-0.676,"albedo":0.188},{"panel":"p4","series":"am","g":2,"sinlat":-0.724,"albedo":0.199},{"panel":"p4","series":"am","g":2,"sinlat":-0.773,"albedo":0.221},{"panel":"p4","series":"am","g":2,"sinlat":-0.806,"albedo":0.255},{"panel":"p4","series":"am","g":2,"sinlat":-0.838,"albedo":0.285},{"panel":"p4","series":"am","g":2,"sinlat":-0.87,"albedo":0.323},{"panel":"p4","series":"am","g":2,"sinlat":-0.887,"albedo":0.368},{"panel":"p4","series":"am","g":2,"sinlat":-0.9,"albedo":0.038},{"panel":"p4","series":"am","g":2,"sinlat":-0.935,"albedo":0.019},{"panel":"p4","series":"am","g":2,"sinlat":-0.997,"albedo":0.026}
],
"leaders": [
{"panel":"p1","id":"a","k":1,"sinlat":-0.365,"albedo":0.232},{"panel":"p1","id":"a","k":2,"sinlat":-0.349,"albedo":0.21},
{"panel":"p1","id":"b","k":1,"sinlat":0.479,"albedo":0.104},{"panel":"p1","id":"b","k":2,"sinlat":0.519,"albedo":0.081},
{"panel":"p1","id":"c","k":1,"sinlat":-0.461,"albedo":0.063},{"panel":"p1","id":"c","k":2,"sinlat":-0.534,"albedo":0.032},{"panel":"p1","id":"c","k":3,"sinlat":-0.614,"albedo":0.027},{"panel":"p1","id":"c","k":4,"sinlat":-0.695,"albedo":0.04},{"panel":"p1","id":"c","k":5,"sinlat":-0.751,"albedo":0.078},{"panel":"p1","id":"c","k":6,"sinlat":-0.775,"albedo":0.13},
{"panel":"p2","id":"a","k":1,"sinlat":-0.195,"albedo":0.219},{"panel":"p2","id":"a","k":2,"sinlat":-0.195,"albedo":0.197},
{"panel":"p2","id":"b","k":1,"sinlat":0.732,"albedo":0.102},{"panel":"p2","id":"b","k":2,"sinlat":0.642,"albedo":0.083},{"panel":"p2","id":"b","k":3,"sinlat":0.528,"albedo":0.083},{"panel":"p2","id":"b","k":4,"sinlat":0.496,"albedo":0.095},
{"panel":"p2","id":"c","k":1,"sinlat":-0.366,"albedo":0.057},{"panel":"p2","id":"c","k":2,"sinlat":-0.447,"albedo":0.042},{"panel":"p2","id":"c","k":3,"sinlat":-0.545,"albedo":0.042},{"panel":"p2","id":"c","k":4,"sinlat":-0.642,"albedo":0.057},{"panel":"p2","id":"c","k":5,"sinlat":-0.707,"albedo":0.087},{"panel":"p2","id":"c","k":6,"sinlat":-0.74,"albedo":0.148},
{"panel":"p3","id":"a","k":1,"sinlat":-0.195,"albedo":0.229},{"panel":"p3","id":"a","k":2,"sinlat":-0.187,"albedo":0.211},
{"panel":"p3","id":"b","k":1,"sinlat":0.565,"albedo":0.099},{"panel":"p3","id":"b","k":2,"sinlat":0.605,"albedo":0.076},
{"panel":"p3","id":"c","k":1,"sinlat":-0.435,"albedo":0.069},{"panel":"p3","id":"c","k":2,"sinlat":-0.499,"albedo":0.054},{"panel":"p3","id":"c","k":3,"sinlat":-0.595,"albedo":0.05},{"panel":"p3","id":"c","k":4,"sinlat":-0.691,"albedo":0.069},{"panel":"p3","id":"c","k":5,"sinlat":-0.739,"albedo":0.114},{"panel":"p3","id":"c","k":6,"sinlat":-0.763,"albedo":0.181},
{"panel":"p4","id":"a","k":1,"sinlat":-0.287,"albedo":0.229},{"panel":"p4","id":"a","k":2,"sinlat":-0.279,"albedo":0.206},
{"panel":"p4","id":"b","k":1,"sinlat":0.54,"albedo":0.086},{"panel":"p4","id":"b","k":2,"sinlat":0.572,"albedo":0.071},
{"panel":"p4","id":"c","k":1,"sinlat":-0.481,"albedo":0.045},{"panel":"p4","id":"c","k":2,"sinlat":-0.562,"albedo":0.038},{"panel":"p4","id":"c","k":3,"sinlat":-0.643,"albedo":0.045},{"panel":"p4","id":"c","k":4,"sinlat":-0.724,"albedo":0.068},{"panel":"p4","id":"c","k":5,"sinlat":-0.789,"albedo":0.09},{"panel":"p4","id":"c","k":6,"sinlat":-0.83,"albedo":0.113}
],
"labels": [
{"panel":"p1","text":"αt","sinlat":-0.373,"albedo":0.251},{"panel":"p1","text":"Δα","sinlat":0.447,"albedo":0.13},{"panel":"p1","text":"αmin","sinlat":-0.469,"albedo":0.078},
{"panel":"p2","text":"αt","sinlat":-0.179,"albedo":0.238},{"panel":"p2","text":"Δα","sinlat":0.74,"albedo":0.117},{"panel":"p2","text":"αmin","sinlat":-0.382,"albedo":0.079},
{"panel":"p3","text":"αt","sinlat":-0.179,"albedo":0.248},{"panel":"p3","text":"Δα","sinlat":0.541,"albedo":0.117},{"panel":"p3","text":"αmin","sinlat":-0.419,"albedo":0.087},
{"panel":"p4","text":"αt","sinlat":-0.271,"albedo":0.244},{"panel":"p4","text":"Δα","sinlat":0.507,"albedo":0.105},{"panel":"p4","text":"αmin","sinlat":-0.425,"albedo":0.068}
]
},
"hconcat": [
{"vconcat": [
{"title": {"text": "JAN 21-FEB 3,1970 TOTAL", "offset": 0},
 "width": 446, "height": 456,
 "resolve": {"axis": {"x": "independent", "y": "independent"}},
 "layer": [
  {"data": {"name": "limits"}, "mark": {"type": "rule", "strokeWidth": 2.5, "color": "#3a3530"},
   "encoding": {"x": {"field": "sinlat", "type": "quantitative", "scale": {"domain": [-1, 1], "reverse": true, "nice": false, "zero": false}, "axis": null}}},
  {"data": {"name": "curves"}, "transform": [{"filter": "datum.panel == 'p1'"}],
   "mark": {"type": "line", "color": "#3a3530", "strokeWidth": 2.6, "clip": true},
   "encoding": {
    "x": {"field": "sinlat", "type": "quantitative", "scale": {"domain": [-1, 1], "reverse": true, "nice": false, "zero": false},
          "axis": {"orient": "bottom", "values": [0.9659,0.9063,0.8192,0.7071,0.5736,0.4226,0.2588,0.0872,-0.0872,-0.2588,-0.4226,-0.5736,-0.7071,-0.8192,-0.9063,-0.9659], "labelExpr": "indexof([0.9063,0.5736,0.2588,-0.2588,-0.5736,-0.9063], datum.value) >= 0 ? '' + round(asin(datum.value)*180/PI) : ''", "labelPadding": 22, "title": "LATITUDE", "titlePadding": 11, "labelFlush": false, "labelOverlap": false}},
    "y": {"field": "albedo", "type": "quantitative", "scale": {"domain": [0, 0.9], "nice": false, "zero": false},
          "axis": {"orient": "left", "values": [0,0.1,0.2,0.3,0.4,0.5,0.6,0.7,0.8,0.9], "labelExpr": "replace(format(datum.value, '.2f'), '0.', '.')", "labelPadding": 20, "title": "ALBEDO", "titlePadding": 13}},
    "detail": {"field": "g", "type": "nominal"},
    "strokeDash": {"field": "series", "type": "nominal", "scale": {"domain": ["at", "da", "am"], "range": [[1, 0], [11, 6], [4, 3, 1.5, 3]]}, "legend": null}}},
  {"data": {"name": "leaders"}, "transform": [{"filter": "datum.panel == 'p1'"}],
   "mark": {"type": "line", "color": "#3a3530", "strokeWidth": 1.6},
   "encoding": {"x": {"field": "sinlat", "type": "quantitative", "axis": null}, "y": {"field": "albedo", "type": "quantitative", "axis": null}, "detail": {"field": "id"}, "order": {"field": "k"}}},
  {"data": {"name": "labels"}, "transform": [{"filter": "datum.panel == 'p1'"}],
   "mark": {"type": "text", "font": "DejaVu Sans", "fontSize": 19, "color": "#3a3530"},
   "encoding": {"x": {"field": "sinlat", "type": "quantitative", "axis": {"orient": "top", "values": [0.9659,0.9063,0.8192,0.7071,0.5736,0.4226,0.2588,0.0872,-0.0872,-0.2588,-0.4226,-0.5736,-0.7071,-0.8192,-0.9063,-0.9659], "labels": false, "title": null}},
    "y": {"field": "albedo", "type": "quantitative", "axis": {"orient": "right", "values": [0.1,0.2,0.3,0.4,0.5,0.6,0.7,0.8], "labels": false, "title": null}},
    "text": {"field": "text"}}}
 ]},
{"title": {"text": "JULY 16-31,1969 TOTAL", "offset": 2, "dx": 12},
 "width": 446, "height": 456,
 "resolve": {"axis": {"x": "independent", "y": "independent"}},
 "layer": [
  {"data": {"name": "limits"}, "mark": {"type": "rule", "strokeWidth": 2.5, "color": "#3a3530"},
   "encoding": {"x": {"field": "sinlat", "type": "quantitative", "scale": {"domain": [-1, 1], "reverse": true, "nice": false, "zero": false}, "axis": null}}},
  {"data": {"name": "curves"}, "transform": [{"filter": "datum.panel == 'p3'"}],
   "mark": {"type": "line", "color": "#3a3530", "strokeWidth": 2.6, "clip": true},
   "encoding": {
    "x": {"field": "sinlat", "type": "quantitative", "scale": {"domain": [-1, 1], "reverse": true, "nice": false, "zero": false},
          "axis": {"orient": "bottom", "values": [0.9659,0.9063,0.8192,0.7071,0.5736,0.4226,0.2588,0.0872,-0.0872,-0.2588,-0.4226,-0.5736,-0.7071,-0.8192,-0.9063,-0.9659], "labelExpr": "indexof([0.9063,0.5736,0.2588,-0.2588,-0.5736,-0.9063], datum.value) >= 0 ? '' + round(asin(datum.value)*180/PI) : ''", "labelPadding": 22, "title": "LATITUDE", "titlePadding": 11, "labelFlush": false, "labelOverlap": false}},
    "y": {"field": "albedo", "type": "quantitative", "scale": {"domain": [0, 0.9], "nice": false, "zero": false},
          "axis": {"orient": "left", "values": [0,0.1,0.2,0.3,0.4,0.5,0.6,0.7,0.8,0.9], "labelExpr": "replace(format(datum.value, '.2f'), '0.', '.')", "labelPadding": 20, "title": "ALBEDO", "titlePadding": 13}},
    "detail": {"field": "g", "type": "nominal"},
    "strokeDash": {"field": "series", "type": "nominal", "scale": {"domain": ["at", "da", "am"], "range": [[1, 0], [11, 6], [4, 3, 1.5, 3]]}, "legend": null}}},
  {"data": {"name": "leaders"}, "transform": [{"filter": "datum.panel == 'p3'"}],
   "mark": {"type": "line", "color": "#3a3530", "strokeWidth": 1.6},
   "encoding": {"x": {"field": "sinlat", "type": "quantitative", "axis": null}, "y": {"field": "albedo", "type": "quantitative", "axis": null}, "detail": {"field": "id"}, "order": {"field": "k"}}},
  {"data": {"name": "labels"}, "transform": [{"filter": "datum.panel == 'p3'"}],
   "mark": {"type": "text", "font": "DejaVu Sans", "fontSize": 19, "color": "#3a3530"},
   "encoding": {"x": {"field": "sinlat", "type": "quantitative", "axis": {"orient": "top", "values": [0.9659,0.9063,0.8192,0.7071,0.5736,0.4226,0.2588,0.0872,-0.0872,-0.2588,-0.4226,-0.5736,-0.7071,-0.8192,-0.9063,-0.9659], "labels": false, "title": null}},
    "y": {"field": "albedo", "type": "quantitative", "axis": {"orient": "right", "values": [0.1,0.2,0.3,0.4,0.5,0.6,0.7,0.8], "labels": false, "title": null}},
    "text": {"field": "text"}}}
 ]}
], "spacing": 245},
{"vconcat": [
{"title": {"text": "MAY 1-15,1969 TOTAL", "offset": 5},
 "width": 446, "height": 456,
 "resolve": {"axis": {"x": "independent", "y": "independent"}},
 "layer": [
  {"data": {"name": "limits"}, "mark": {"type": "rule", "strokeWidth": 2.5, "color": "#3a3530"},
   "encoding": {"x": {"field": "sinlat", "type": "quantitative", "scale": {"domain": [-1, 1], "reverse": true, "nice": false, "zero": false}, "axis": null}}},
  {"data": {"name": "curves"}, "transform": [{"filter": "datum.panel == 'p2'"}],
   "mark": {"type": "line", "color": "#3a3530", "strokeWidth": 2.6, "clip": true},
   "encoding": {
    "x": {"field": "sinlat", "type": "quantitative", "scale": {"domain": [-1, 1], "reverse": true, "nice": false, "zero": false},
          "axis": {"orient": "bottom", "values": [0.9659,0.9063,0.8192,0.7071,0.5736,0.4226,0.2588,0.0872,-0.0872,-0.2588,-0.4226,-0.5736,-0.7071,-0.8192,-0.9063,-0.9659], "labelExpr": "indexof([0.9063,0.5736,0.2588,-0.2588,-0.5736,-0.9063], datum.value) >= 0 ? '' + round(asin(datum.value)*180/PI) : ''", "labelPadding": 22, "title": "LATITUDE", "titlePadding": 11, "labelFlush": false, "labelOverlap": false}},
    "y": {"field": "albedo", "type": "quantitative", "scale": {"domain": [0, 0.9], "nice": false, "zero": false},
          "axis": {"orient": "left", "values": [0,0.1,0.2,0.3,0.4,0.5,0.6,0.7,0.8,0.9], "labelExpr": "replace(format(datum.value, '.2f'), '0.', '.')", "labelPadding": 20, "title": "ALBEDO", "titlePadding": 13}},
    "detail": {"field": "g", "type": "nominal"},
    "strokeDash": {"field": "series", "type": "nominal", "scale": {"domain": ["at", "da", "am"], "range": [[1, 0], [11, 6], [4, 3, 1.5, 3]]}, "legend": null}}},
  {"data": {"name": "leaders"}, "transform": [{"filter": "datum.panel == 'p2'"}],
   "mark": {"type": "line", "color": "#3a3530", "strokeWidth": 1.6},
   "encoding": {"x": {"field": "sinlat", "type": "quantitative", "axis": null}, "y": {"field": "albedo", "type": "quantitative", "axis": null}, "detail": {"field": "id"}, "order": {"field": "k"}}},
  {"data": {"name": "labels"}, "transform": [{"filter": "datum.panel == 'p2'"}],
   "mark": {"type": "text", "font": "DejaVu Sans", "fontSize": 19, "color": "#3a3530"},
   "encoding": {"x": {"field": "sinlat", "type": "quantitative", "axis": {"orient": "top", "values": [0.9659,0.9063,0.8192,0.7071,0.5736,0.4226,0.2588,0.0872,-0.0872,-0.2588,-0.4226,-0.5736,-0.7071,-0.8192,-0.9063,-0.9659], "labels": false, "title": null}},
    "y": {"field": "albedo", "type": "quantitative", "axis": {"orient": "right", "values": [0.1,0.2,0.3,0.4,0.5,0.6,0.7,0.8], "labels": false, "title": null}},
    "text": {"field": "text"}}}
 ]},
{"title": {"text": "OCT 3-17,1969 TOTAL", "offset": 2, "dx": 5},
 "width": 446, "height": 456,
 "resolve": {"axis": {"x": "independent", "y": "independent"}},
 "layer": [
  {"data": {"name": "limits"}, "mark": {"type": "rule", "strokeWidth": 2.5, "color": "#3a3530"},
   "encoding": {"x": {"field": "sinlat", "type": "quantitative", "scale": {"domain": [-1, 1], "reverse": true, "nice": false, "zero": false}, "axis": null}}},
  {"data": {"name": "curves"}, "transform": [{"filter": "datum.panel == 'p4'"}],
   "mark": {"type": "line", "color": "#3a3530", "strokeWidth": 2.6, "clip": true},
   "encoding": {
    "x": {"field": "sinlat", "type": "quantitative", "scale": {"domain": [-1, 1], "reverse": true, "nice": false, "zero": false},
          "axis": {"orient": "bottom", "values": [0.9659,0.9063,0.8192,0.7071,0.5736,0.4226,0.2588,0.0872,-0.0872,-0.2588,-0.4226,-0.5736,-0.7071,-0.8192,-0.9063,-0.9659], "labelExpr": "indexof([0.9063,0.5736,0.2588,-0.2588,-0.5736,-0.9063], datum.value) >= 0 ? '' + round(asin(datum.value)*180/PI) : ''", "labelPadding": 22, "title": "LATITUDE", "titlePadding": 11, "labelFlush": false, "labelOverlap": false}},
    "y": {"field": "albedo", "type": "quantitative", "scale": {"domain": [0, 0.9], "nice": false, "zero": false},
          "axis": {"orient": "left", "values": [0,0.1,0.2,0.3,0.4,0.5,0.6,0.7,0.8,0.9], "labelExpr": "replace(format(datum.value, '.2f'), '0.', '.')", "labelPadding": 20, "title": "ALBEDO", "titlePadding": 13}},
    "detail": {"field": "g", "type": "nominal"},
    "strokeDash": {"field": "series", "type": "nominal", "scale": {"domain": ["at", "da", "am"], "range": [[1, 0], [11, 6], [4, 3, 1.5, 3]]}, "legend": null}}},
  {"data": {"name": "leaders"}, "transform": [{"filter": "datum.panel == 'p4'"}],
   "mark": {"type": "line", "color": "#3a3530", "strokeWidth": 1.6},
   "encoding": {"x": {"field": "sinlat", "type": "quantitative", "axis": null}, "y": {"field": "albedo", "type": "quantitative", "axis": null}, "detail": {"field": "id"}, "order": {"field": "k"}}},
  {"data": {"name": "labels"}, "transform": [{"filter": "datum.panel == 'p4'"}],
   "mark": {"type": "text", "font": "DejaVu Sans", "fontSize": 19, "color": "#3a3530"},
   "encoding": {"x": {"field": "sinlat", "type": "quantitative", "axis": {"orient": "top", "values": [0.9659,0.9063,0.8192,0.7071,0.5736,0.4226,0.2588,0.0872,-0.0872,-0.2588,-0.4226,-0.5736,-0.7071,-0.8192,-0.9063,-0.9659], "labels": false, "title": null}},
    "y": {"field": "albedo", "type": "quantitative", "axis": {"orient": "right", "values": [0.1,0.2,0.3,0.4,0.5,0.6,0.7,0.8], "labels": false, "title": null}},
    "text": {"field": "text"}}}
 ]}
], "spacing": 231}
],
"spacing": 80,
"config": {
 "view": {"stroke": "#3a3530", "strokeWidth": 3},
 "axis": {"grid": false, "domain": false, "tickColor": "#3a3530", "tickWidth": 2, "tickSize": -10, "labelFont": "DejaVu Sans", "labelFontSize": 21, "labelColor": "#3a3530", "titleFont": "DejaVu Sans", "titleFontSize": 21, "titleFontWeight": "normal", "titleColor": "#3a3530"},
 "title": {"font": "DejaVu Sans", "fontSize": 27, "fontWeight": "normal", "color": "#3a3530", "anchor": "middle"}
}
}
